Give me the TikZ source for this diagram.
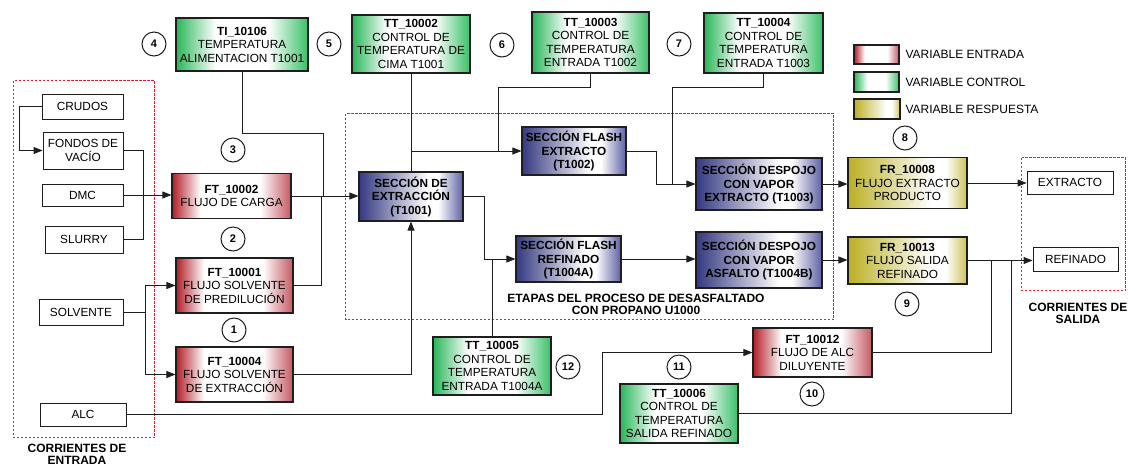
\documentclass[tikz,border=0pt]{standalone}
\usepackage{fontspec}
\setmainfont{Liberation Sans}
\usetikzlibrary{arrows.meta}

% colours of the gradient boxes
\definecolor{redL}{RGB}{178,28,38}
\definecolor{redR}{RGB}{196,88,98}
\definecolor{grnL}{RGB}{40,182,88}
\definecolor{grnR}{RGB}{58,192,104}
\definecolor{yelL}{RGB}{186,176,36}
\definecolor{yelR}{RGB}{204,194,90}
\definecolor{bluL}{RGB}{52,56,128}
\definecolor{bluR}{RGB}{92,96,162}
\definecolor{dashred}{RGB}{245,25,40}
\definecolor{ink}{RGB}{30,30,30}

% horizontal gradients: edge colour -> white -> edge colour
\pgfdeclarehorizontalshading{redsh}{100bp}{color(0bp)=(redL); color(25bp)=(redL); color(37bp)=(white); color(62bp)=(white); color(75bp)=(redR); color(100bp)=(redR)}
\pgfdeclarehorizontalshading{grnsh}{100bp}{color(0bp)=(grnL); color(25bp)=(grnL); color(40bp)=(white); color(60bp)=(white); color(75bp)=(grnR); color(100bp)=(grnR)}
\pgfdeclarehorizontalshading{yelsh}{100bp}{color(0bp)=(yelL); color(25bp)=(yelL); color(60bp)=(white); color(66bp)=(white); color(75bp)=(yelR); color(100bp)=(yelR)}
\pgfdeclarehorizontalshading{blush}{100bp}{color(0bp)=(bluL); color(25bp)=(bluL); color(58bp)=(white); color(63bp)=(white); color(75bp)=(bluR); color(100bp)=(bluR)}

\newcommand\diagfont{\fontsize{11.8}{13.5}\selectfont}

\tikzset{
  base/.style={draw=ink, line width=1.1pt, inner sep=1pt, align=center, font=\diagfont},
  plainbox/.style={base, fill=white, line width=0.9pt},
  redbox/.style={base, shading=redsh},
  grnbox/.style={base, shading=grnsh},
  yelbox/.style={base, shading=yelsh},
  blubox/.style={base, shading=blush, font=\diagfont\bfseries},
  num/.style={draw=ink, circle, line width=1pt, minimum size=24pt, inner sep=0pt, font=\fontsize{11}{12}\selectfont\bfseries},
  conn/.style={draw=ink, line width=0.9pt},
  arr/.style={-{Triangle[length=9pt,width=7pt]}},
  zone/.style={draw=dashred, line width=1.1pt, dash pattern=on 2.5pt off 1.5pt},
  caption/.style={align=center, font=\fontsize{12}{12.5}\selectfont\bfseries},
  legtext/.style={anchor=west, font=\fontsize{12}{13}\selectfont},
}

\begin{document}
\begin{tikzpicture}[x=1pt, y=-1pt]
\useasboundingbox (0,0) rectangle (1128,467);

% grouping frames
\draw[zone] (13.5,80.5) rectangle (154.5,437.5);
\draw[zone] (345.5,113.5) rectangle (833.5,319.5);
\draw[zone] (1021.5,157.5) rectangle (1125.5,290.5);

% input streams
\node[plainbox, minimum width=81pt, minimum height=25pt] (crudos) at (82.5,106.5) {CRUDOS};
\node[plainbox, minimum width=80pt, minimum height=37pt] (fondos) at (83,150.5) {FONDOS DE\\VACÍO};
\node[plainbox, minimum width=81pt, minimum height=22pt] (dmc) at (82.5,195) {DMC};
\node[plainbox, minimum width=78pt, minimum height=27pt] (slurry) at (84,239.5) {SLURRY};
\node[plainbox, minimum width=84pt, minimum height=26pt] (solvente) at (81,312) {SOLVENTE};
\node[plainbox, minimum width=86pt, minimum height=23pt] (alc) at (83,414.5) {ALC};

% output streams
\node[plainbox, minimum width=86pt, minimum height=23pt] (extracto) at (1070,182.5) {EXTRACTO};
\node[plainbox, minimum width=85pt, minimum height=24pt] (refinado) at (1075.5,259) {REFINADO};

% input variables
\node[redbox, minimum width=119pt, minimum height=45pt] (ft10002) at (231.5,196) {\textbf{FT\_10002}\\FLUJO DE CARGA};
\node[redbox, minimum width=117pt, minimum height=55pt] (ft10001) at (234.5,285.5) {\textbf{FT\_10001}\\FLUJO SOLVENTE\\DE PREDILUCIÓN};
\node[redbox, minimum width=117pt, minimum height=55pt] (ft10004) at (234.5,374.5) {\textbf{FT\_10004}\\FLUJO SOLVENTE\\DE EXTRACCIÓN};
\node[redbox, minimum width=119pt, minimum height=49pt] (ft10012) at (812.5,352.5) {\textbf{FT\_10012}\\FLUJO DE ALC\\DILUYENTE};

% control variables
\node[grnbox, minimum width=132pt, minimum height=53pt] (ti10106) at (242,44.5) {\textbf{TI\_10106}\\TEMPERATURA\\ALIMENTACION T1001};
\node[grnbox, minimum width=118pt, minimum height=58pt] (tt10002) at (411,44) {\textbf{TT\_10002}\\CONTROL DE\\TEMPERATURA DE\\CIMA T1001};
\node[grnbox, minimum width=117pt, minimum height=61pt] (tt10003) at (590.5,42.5) {\textbf{TT\_10003}\\CONTROL DE\\TEMPERATURA\\ENTRADA T1002};
\node[grnbox, minimum width=119pt, minimum height=60pt] (tt10004) at (763.5,43) {\textbf{TT\_10004}\\CONTROL DE\\TEMPERATURA\\ENTRADA T1003};
\node[grnbox, minimum width=118pt, minimum height=58pt] (tt10005) at (492,366) {\textbf{TT\_10005}\\CONTROL DE\\TEMPERATURA\\ENTRADA T1004A};
\node[grnbox, minimum width=118pt, minimum height=59pt] (tt10006) at (679,413.5) {\textbf{TT\_10006}\\CONTROL DE\\TEMPERATURA\\SALIDA REFINADO};

% process sections
\node[blubox, minimum width=104pt, minimum height=49pt] (extr) at (411,196.5) {SECCIÓN DE\\EXTRACCIÓN\\(T1001)};
\node[blubox, minimum width=104pt, minimum height=48pt] (flashext) at (574,151) {SECCIÓN FLASH\\EXTRACTO\\(T1002)};
\node[blubox, minimum width=126pt, minimum height=52pt] (despext) at (759,184) {SECCIÓN DESPOJO\\CON VAPOR\\EXTRACTO (T1003)};
\node[blubox, minimum width=105pt, minimum height=46pt] (flashref) at (568.5,259) {SECCIÓN FLASH\\REFINADO\\(T1004A)};
\node[blubox, minimum width=126pt, minimum height=56pt] (despasf) at (759,260) {SECCIÓN DESPOJO\\CON VAPOR\\ASFALTO (T1004B)};

% response variables
\node[yelbox, minimum width=119pt, minimum height=51pt] (fr10008) at (907.5,183) {\textbf{FR\_10008}\\FLUJO EXTRACTO\\PRODUCTO};
\node[yelbox, minimum width=119pt, minimum height=47pt] (fr10013) at (907.5,260.5) {\textbf{FR\_10013}\\FLUJO SALIDA\\REFINADO};

% numbered markers
\node[num] (n1) at (234,330) {1};
\node[num] (n2) at (233,239) {2};
\node[num] (n3) at (233,150) {3};
\node[num] (n4) at (154,44) {4};
\node[num] (n5) at (329,44) {5};
\node[num] (n6) at (502,45) {6};
\node[num] (n7) at (679,44) {7};
\node[num] (n8) at (905,138) {8};
\node[num] (n9) at (907,304) {9};
\node[num] (n10) at (812,394) {10};
\node[num] (n11) at (679,367) {11};
\node[num] (n12) at (568,367) {12};

% legend
\node[redbox, minimum width=45pt, minimum height=19pt] (legR) at (876.5,54.5) {};
\node[grnbox, minimum width=45pt, minimum height=20pt] (legG) at (876.5,82) {};
\node[yelbox, minimum width=46pt, minimum height=20pt] (legY) at (877,109) {};
\node[legtext] (legRt) at (902,54.5) {VARIABLE ENTRADA};
\node[legtext] (legGt) at (902,82) {VARIABLE CONTROL};
\node[legtext] (legYt) at (902,109) {VARIABLE RESPUESTA};

% frame captions
\node[caption] (capIn) at (77,454.5) {CORRIENTES DE\\ENTRADA};
\node[caption] (capOut) at (1078,313.5) {CORRIENTES DE\\SALIDA};
\node[caption] (capProc) at (636,304.5) {ETAPAS DEL PROCESO DE DESASFALTADO\\CON PROPANO U1000};

% junction points
\coordinate (sj) at (145,312);
\coordinate (tiK) at (323,133);
\coordinate (fj) at (321,196.5);
\coordinate (alcUp) at (602,352.5);
\coordinate (xj) at (411,151);
\coordinate (t3k) at (498,87);
\coordinate (t3j) at (498,151);
\coordinate (dj) at (656,184);
\coordinate (t4k) at (672,87);
\coordinate (t4j) at (672,184);
\coordinate (ej) at (484,259);
\coordinate (r1) at (991,260.5);
\coordinate (r2) at (1011,260.5);

% feed side
\draw[conn,arr] (crudos.west) -- ++(-22,0) |- (fondos.west);
\draw[conn] (fondos.east) -- ++(20,0) |- (slurry.east);
\draw[conn,arr] (dmc.east) -- (dmc.east -| ft10002.west);
\draw[conn] (solvente.east) -- (sj);
\draw[conn,arr] (sj) |- (ft10001.west);
\draw[conn,arr] (sj) |- (ft10004.west);
\draw[conn] (ti10106.south) |- (tiK) -- (tiK |- extr.west);
\draw[conn] (ft10001.east) -| (fj);
\draw[conn,arr] (ft10002.east) -- (ft10002.east -| extr.west);
\draw[conn,arr] (ft10004.east) -| (extr.south);
\draw[conn,arr] (alc.east) -| (alcUp) -- (ft10012.west);

% process train
\draw[conn] (tt10002.south) -- (extr.north);
\draw[conn,arr] (xj) -- (flashext.west);
\draw[conn] (tt10003.south) |- (t3k) -- (t3j);
\draw[conn,arr] (flashext.east) -| (dj) -- (despext.west);
\draw[conn] (tt10004.south) |- (t4k) -- (t4j);
\draw[conn,arr] (despext.east) -- (despext.east -| fr10008.west);
\draw[conn,arr] (extr.east) -| (ej) -- (flashref.west);
\draw[conn] (tt10005.north) -- (tt10005.north |- flashref.west);
\draw[conn,arr] (flashref.east) -- (flashref.east -| despasf.west);
\draw[conn,arr] (despasf.east) -- (despasf.east -| fr10013.west);

% product side
\draw[conn,arr] (fr10008.east) -- (fr10008.east -| extracto.west);
\draw[conn,arr] (fr10013.east) -- (fr10013.east -| refinado.west);
\draw[conn] (ft10012.east) -| (r1);
\draw[conn] (tt10006.east) -| (r2);
\end{tikzpicture}
\end{document}
